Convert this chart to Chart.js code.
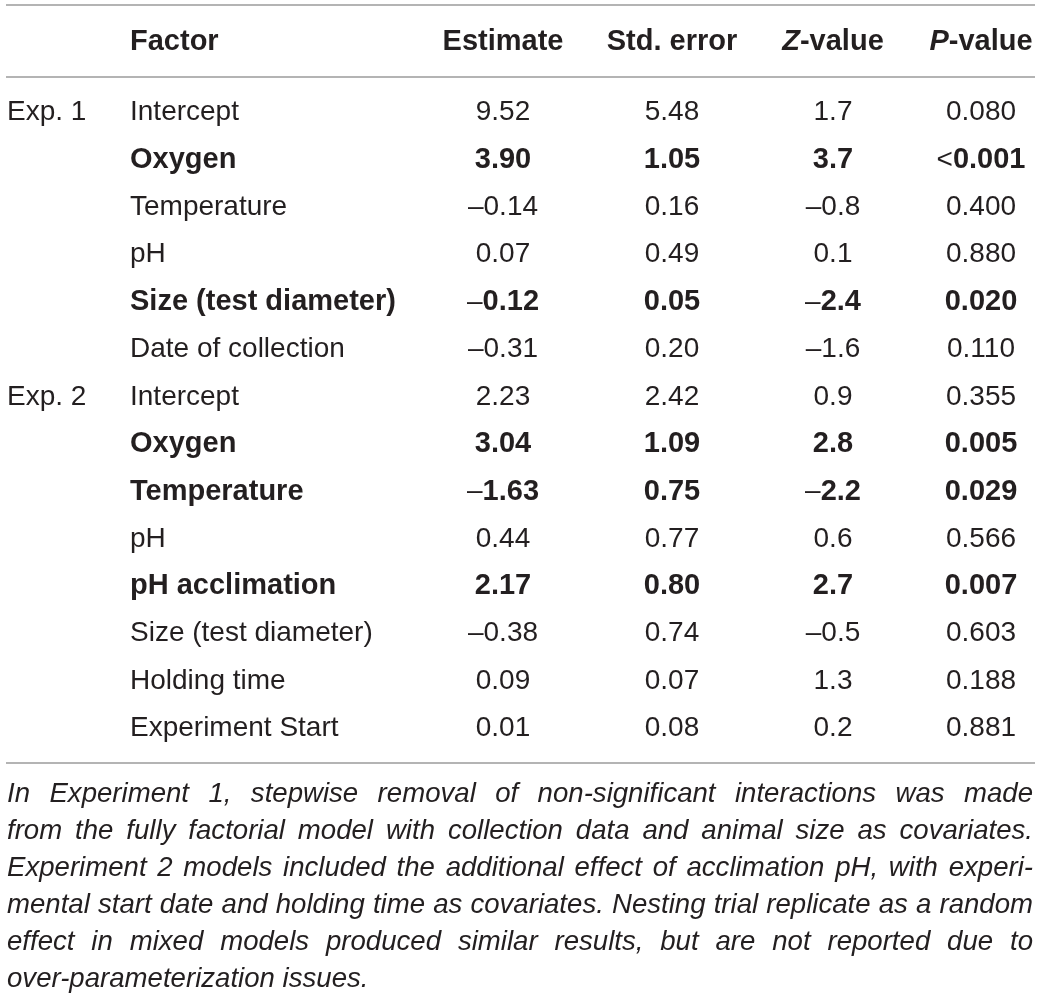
<!DOCTYPE html>
<html>
<head>
<meta charset="utf-8">
<script src="https://cdn.jsdelivr.net/npm/chart.js@4.4.1/dist/chart.umd.min.js"></script>
<style>
html,body{margin:0;padding:0;background:#ffffff;}
#wrap{width:1040px;height:998px;position:relative;}
</style>
</head>
<body>
<div id="wrap"><canvas id="c"></canvas></div>
<script>
// ---- table content ----
const headers = ["", "Factor", "Estimate", "Std. error", "Z-value", "P-value"];
const groups = ["Exp. 1", "", "", "", "", "", "Exp. 2", "", "", "", "", "", "", ""];
const factors = ["Intercept", "Oxygen", "Temperature", "pH", "Size (test diameter)", "Date of collection",
  "Intercept", "Oxygen", "Temperature", "pH", "pH acclimation", "Size (test diameter)", "Holding time", "Experiment Start"];
const estimates = ["9.52", "3.90", "\u20130.14", "0.07", "\u20130.12", "\u20130.31", "2.23", "3.04", "\u20131.63", "0.44", "2.17", "\u20130.38", "0.09", "0.01"];
const stdErrors = ["5.48", "1.05", "0.16", "0.49", "0.05", "0.20", "2.42", "1.09", "0.75", "0.77", "0.80", "0.74", "0.07", "0.08"];
const zValues = ["1.7", "3.7", "\u20130.8", "0.1", "\u20132.4", "\u20131.6", "0.9", "2.8", "\u20132.2", "0.6", "2.7", "\u20130.5", "1.3", "0.2"];
const pValues = ["0.080", "<0.001", "0.400", "0.880", "0.020", "0.110", "0.355", "0.005", "0.029", "0.566", "0.007", "0.603", "0.188", "0.881"];
const significant = [false, true, false, false, true, false, false, true, true, false, true, false, false, false];
const footnoteLines = [
  "In Experiment 1, stepwise removal of non-significant interactions was made",
  "from the fully factorial model with collection data and animal size as covariates.",
  "Experiment 2 models included the additional effect of acclimation pH, with experi-",
  "mental start date and holding time as covariates. Nesting trial replicate as a random",
  "effect in mixed models produced similar results, but are not reported due to",
  "over-parameterization issues."
];

// ---- style / layout ----
const FONT = '"Liberation Sans", Arial, Helvetica, sans-serif';
const TEXT = '#231f20';
const RULE = '#9b9b9b';
const SIZE = 28;
const BOLD_SIZE = 29;
const NOTE_SIZE = 27.6;
const LEFT = 6, RIGHT = 1035;
const groupX = 7, factorX = 130;
const colCenters = [503, 672, 833, 981];

function font(weight, style, size) {
  const s = size || (weight === 'bold' ? BOLD_SIZE : SIZE);
  return (style || 'normal') + ' ' + (weight || 'normal') + ' ' + s + 'px ' + FONT;
}

// draw segments [{t, w, s}] centred or left-aligned
function drawSegs(ctx, segs, x, y, align) {
  let total = 0;
  segs.forEach(sg => { ctx.font = font(sg.w, sg.s); sg.width = ctx.measureText(sg.t).width; total += sg.width; });
  let cx = align === 'center' ? x - total / 2 : x;
  segs.forEach(sg => {
    ctx.font = font(sg.w, sg.s);
    ctx.textAlign = 'left';
    ctx.fillText(sg.t, cx, y);
    cx += sg.width;
  });
}

function valueSegs(v, bold) {
  if (!bold) return [{t: v, w: 'normal'}];
  const m = v.match(/^([\u2013<]?)(.*)$/);
  const segs = [];
  if (m[1]) segs.push({t: m[1], w: 'normal'});
  segs.push({t: m[2], w: 'bold'});
  return segs;
}

const tablePlugin = {
  id: 'tablePlugin',
  afterDraw(chart) {
    const ctx = chart.ctx;
    const y = chart.scales.y;
    const area = chart.chartArea;
    const pitch = y.getPixelForValue(1) - y.getPixelForValue(0);
    ctx.save();
    ctx.fillStyle = TEXT;
    ctx.textBaseline = 'middle';

    // rules
    ctx.strokeStyle = RULE;
    ctx.lineWidth = 1.6;
    const rules = [5, area.top - 12, area.bottom + 11];
    rules.forEach(ry => { ctx.beginPath(); ctx.moveTo(LEFT, ry); ctx.lineTo(RIGHT, ry); ctx.stroke(); });

    // header
    const hy = area.top - pitch;
    drawSegs(ctx, [{t: headers[1], w: 'bold'}], factorX, hy, 'left');
    drawSegs(ctx, [{t: headers[2], w: 'bold'}], colCenters[0], hy, 'center');
    drawSegs(ctx, [{t: headers[3], w: 'bold'}], colCenters[1], hy, 'center');
    drawSegs(ctx, [{t: headers[4].charAt(0), w: 'bold', s: 'italic'}, {t: headers[4].slice(1), w: 'bold'}], colCenters[2], hy, 'center');
    drawSegs(ctx, [{t: headers[5].charAt(0), w: 'bold', s: 'italic'}, {t: headers[5].slice(1), w: 'bold'}], colCenters[3], hy, 'center');

    // body
    factors.forEach((f, i) => {
      const ry = y.getPixelForValue(i);
      const b = significant[i];
      if (groups[i]) drawSegs(ctx, [{t: groups[i], w: 'normal'}], groupX, ry, 'left');
      drawSegs(ctx, [{t: f, w: b ? 'bold' : 'normal'}], factorX, ry, 'left');
      drawSegs(ctx, valueSegs(estimates[i], b), colCenters[0], ry, 'center');
      drawSegs(ctx, valueSegs(stdErrors[i], b), colCenters[1], ry, 'center');
      drawSegs(ctx, valueSegs(zValues[i], b), colCenters[2], ry, 'center');
      drawSegs(ctx, valueSegs(pValues[i], b), colCenters[3], ry, 'center');
    });

    // footnote (justified)
    ctx.font = font('normal', 'italic', NOTE_SIZE);
    ctx.textAlign = 'left';
    const noteTop = area.bottom + 42;
    const noteGap = 37;
    const x0 = 7, x1 = 1033;
    footnoteLines.forEach((line, k) => {
      const ly = noteTop + k * noteGap;
      const words = line.split(' ');
      if (k === footnoteLines.length - 1 || words.length < 2) {
        ctx.fillText(line, x0, ly);
        return;
      }
      const widths = words.map(w => ctx.measureText(w).width);
      const sum = widths.reduce((a, c) => a + c, 0);
      const gap = (x1 - x0 - sum) / (words.length - 1);
      let cx = x0;
      words.forEach((w, j) => { ctx.fillText(w, cx, ly); cx += widths[j] + gap; });
    });
    ctx.restore();
  }
};

new Chart(document.getElementById('c'), {
  type: 'bar',
  data: {
    labels: factors,
    datasets: [{ data: factors.map(() => 0), backgroundColor: 'rgba(0,0,0,0)', borderWidth: 0 }]
  },
  options: {
    indexAxis: 'y',
    responsive: true,
    maintainAspectRatio: false,
    animation: false,
    events: [],
    layout: { padding: { top: 89, bottom: 246, left: 0, right: 0 } },
    plugins: { legend: { display: false }, tooltip: { enabled: false } },
    scales: {
      x: { type: 'linear', min: 0, max: 1, display: false },
      y: { type: 'category', offset: true, display: false, grid: { display: false } }
    }
  },
  plugins: [tablePlugin]
});
</script>
</body>
</html>
